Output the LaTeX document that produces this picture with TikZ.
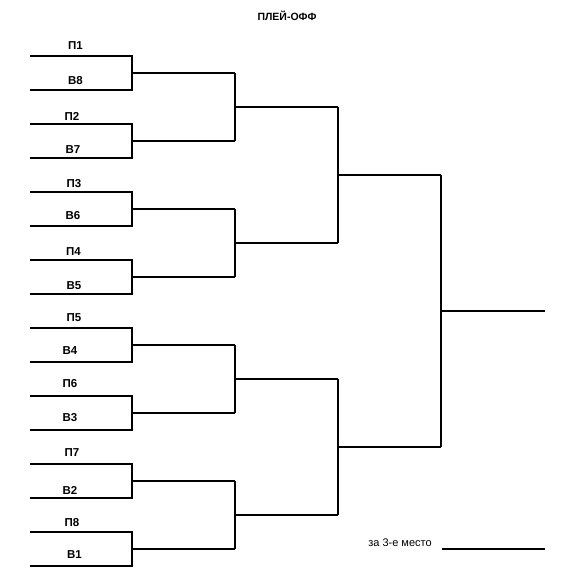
\documentclass[tikz,border=0pt]{standalone}
\usepackage{fontspec}
\setmainfont{Liberation Sans}
\begin{document}
\begin{tikzpicture}[x=1pt,y=-1pt,
  bline/.style={line width=2pt, line join=miter, line cap=butt},
  lbl/.style={inner sep=0pt, font=\fontsize{11.5}{13}\selectfont\bfseries},
  ttl/.style={inner sep=0pt, font=\fontsize{10.5}{12}\selectfont\bfseries},
  txt/.style={inner sep=0pt, font=\fontsize{11}{13}\selectfont}]
\useasboundingbox[fill=white] (0,0) rectangle (577,577);
% round 1 line ends
\foreach \i in {1,...,16}{
  \coordinate (a\i) at (30,{56+34*(\i-1)});
  \coordinate (b\i) at (132,{56+34*(\i-1)});
}
% round 2
\foreach \j in {1,...,8}{
  \coordinate (c\j) at (132,{73+68*(\j-1)});
  \coordinate (d\j) at (235,{73+68*(\j-1)});
}
% round 3
\foreach \k in {1,...,4}{
  \coordinate (e\k) at (235,{107+136*(\k-1)});
  \coordinate (f\k) at (338,{107+136*(\k-1)});
}
% round 4
\foreach \m in {1,2}{
  \coordinate (g\m) at (338,{175+272*(\m-1)});
  \coordinate (h\m) at (441,{175+272*(\m-1)});
}
\coordinate (p) at (441,311);
\coordinate (q) at (545,311);

\foreach \u/\l/\j in {1/2/1,3/4/2,5/6/3,7/8/4,9/10/5,11/12/6,13/14/7,15/16/8}{
  \draw[bline] (a\u) -- (b\u) -- (b\l) -- (a\l);
  \draw[bline] (c\j) -- (d\j);
}
\foreach \u/\l/\k in {1/2/1,3/4/2,5/6/3,7/8/4}{
  \draw[bline] (d\u) -- (d\l);
  \draw[bline] (e\k) -- (f\k);
}
\foreach \u/\l/\m in {1/2/1,3/4/2}{
  \draw[bline] (f\u) -- (f\l);
  \draw[bline] (g\m) -- (h\m);
}
\draw[bline] (h1) -- (h2);
\draw[bline] (p) -- (q);

% labels
\node[ttl] (title) at (287,16) {ПЛЕЙ-ОФФ};
\node[lbl] (p1) at (75.5,45.5) {П1};
\node[lbl] (w8) at (75.5,81) {В8};
\node[lbl] (p2) at (72,116) {П2};
\node[lbl] (w7) at (73,149.5) {В7};
\node[lbl] (p3) at (74,184) {П3};
\node[lbl] (w6) at (73,215.5) {В6};
\node[lbl] (p4) at (73.5,252) {П4};
\node[lbl] (w5) at (74,285.5) {В5};
\node[lbl] (p5) at (74,318) {П5};
\node[lbl] (w4) at (70,350.5) {В4};
\node[lbl] (p6) at (70,384) {П6};
\node[lbl] (w3) at (70,417.5) {В3};
\node[lbl] (p7) at (72,453) {П7};
\node[lbl] (w2) at (70,490) {В2};
\node[lbl] (p8) at (72,523) {П8};
\node[lbl] (w1) at (74.5,554.5) {В1};

% third place
\node[txt] (third) at (400,542.5) {за 3-е место};
\coordinate (t1) at (442,549);
\coordinate (t2) at (545,549);
\draw[bline] (t1) -- (t2);
\end{tikzpicture}
\end{document}
